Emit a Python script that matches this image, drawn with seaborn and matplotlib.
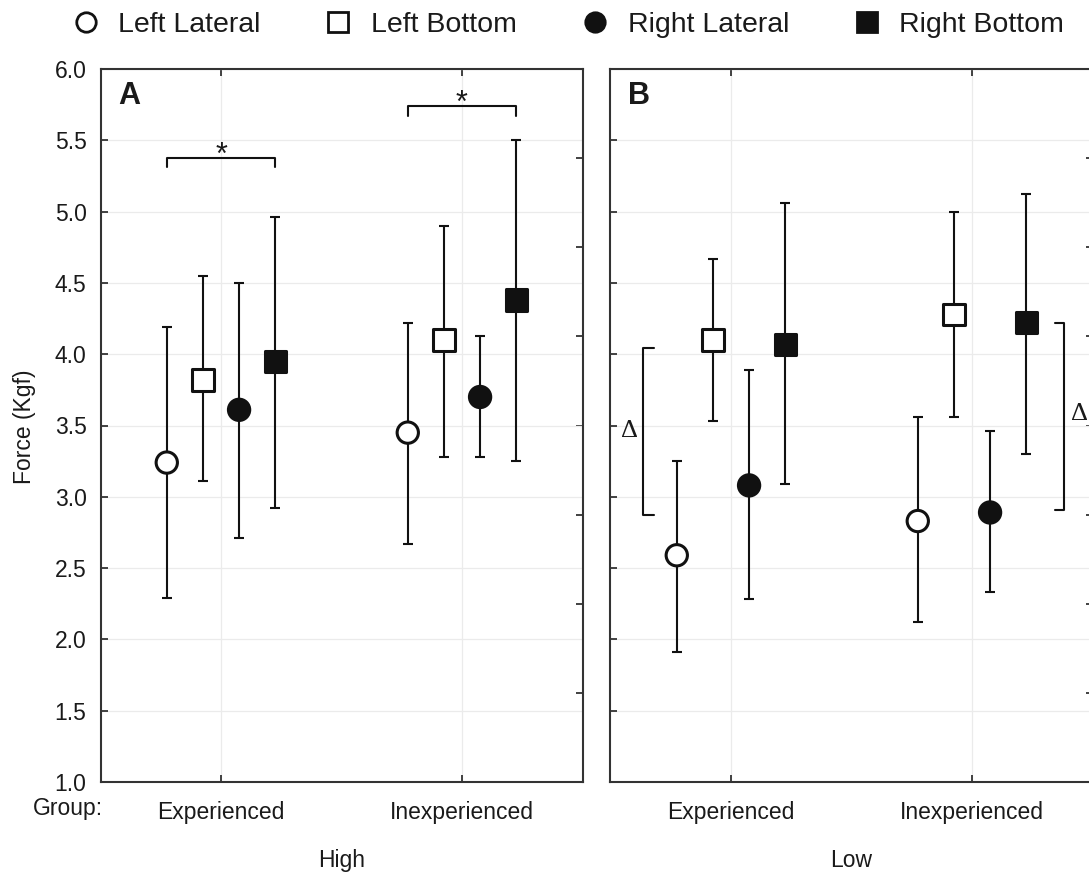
import numpy as np
import pandas as pd
import matplotlib
matplotlib.use("Agg")
import matplotlib.pyplot as plt
from matplotlib.lines import Line2D
import seaborn as sns

# ---------------- data ----------------
groups = ["Experienced", "Inexperienced"]
series = ["Left Lateral", "Left Bottom", "Right Lateral", "Right Bottom"]
panels = ["High", "Low"]

# Panel A (High)
high_mean = {"Left Lateral": [3.24, 3.45], "Left Bottom": [3.82, 4.10],
             "Right Lateral": [3.61, 3.70], "Right Bottom": [3.95, 4.38]}
high_upper = {"Left Lateral": [4.19, 4.22], "Left Bottom": [4.55, 4.90],
              "Right Lateral": [4.50, 4.13], "Right Bottom": [4.96, 5.50]}
high_lower = {"Left Lateral": [2.29, 2.67], "Left Bottom": [3.11, 3.28],
              "Right Lateral": [2.71, 3.28], "Right Bottom": [2.92, 3.25]}

# Panel B (Low)
low_mean = {"Left Lateral": [2.59, 2.83], "Left Bottom": [4.10, 4.28],
            "Right Lateral": [3.08, 2.89], "Right Bottom": [4.07, 4.22]}
low_upper = {"Left Lateral": [3.25, 3.56], "Left Bottom": [4.67, 5.00],
             "Right Lateral": [3.89, 3.46], "Right Bottom": [5.06, 5.12]}
low_lower = {"Left Lateral": [1.91, 2.12], "Left Bottom": [3.53, 3.56],
             "Right Lateral": [2.28, 2.33], "Right Bottom": [3.09, 3.30]}

y_ticks = [1.0, 1.5, 2.0, 2.5, 3.0, 3.5, 4.0, 4.5, 5.0, 5.5, 6.0]
right_ticks = [1.625, 2.25, 2.875, 3.5, 4.125, 4.75, 5.375]

# significance brackets (panel A): (group index, bar top, leg bottom)
sig_brackets = [(0, 5.375, 5.31), (1, 5.74, 5.67)]
# delta brackets (panel B): (x line, x cap end, top, bottom, text x, text y)
delta_brackets = [(-0.365, -0.32, 4.04, 2.87, -0.42, 3.46),
                  (1.382, 1.344, 4.22, 2.91, 1.448, 3.58)]

# ---------------- style ----------------
sns.set_style("white")
plt.rcParams["font.family"] = ["Liberation Sans", "DejaVu Sans"]
TXT = "#1a1a1a"
EDGE = "#111111"
SPINE = "#333333"

face = {"Left Lateral": "white", "Left Bottom": "white",
        "Right Lateral": EDGE, "Right Bottom": EDGE}
marks = {"Left Lateral": "o", "Left Bottom": "s",
         "Right Lateral": "o", "Right Bottom": "s"}
offsets = dict(zip(series, np.linspace(-0.225, 0.225, len(series))))

W, H = 1089, 876
fig = plt.figure(figsize=(W / 100, H / 100), dpi=100)
ax_w = 482 / W
ax_h = 713 / H
ax_b = 1 - 782 / H
axA = fig.add_axes([100.5 / W, ax_b, ax_w, ax_h])
axB = fig.add_axes([610.5 / W, ax_b, ax_w, ax_h])


def build_df(mean, upper, lower):
    rows = []
    for s in series:
        for gi, g in enumerate(groups):
            rows.append(dict(series=s, group=g, x=gi + offsets[s],
                             mean=mean[s][gi], upper=upper[s][gi],
                             lower=lower[s][gi]))
    return pd.DataFrame(rows)


def draw_panel(ax, df, letter, show_labels):
    for s in series:
        d = df[df.series == s]
        ax.errorbar(d.x, d["mean"], yerr=[d["mean"] - d.lower, d.upper - d["mean"]],
                    fmt="none", ecolor=EDGE, elinewidth=1.5, capsize=3.8,
                    capthick=1.5, zorder=2)
    sns.scatterplot(data=df, x="x", y="mean", hue="series", style="series",
                    palette=face, markers=marks, s=235, edgecolor=EDGE,
                    linewidth=2.2, legend=False, ax=ax, zorder=3)
    ax.set_xlim(-0.5, 1.5)
    ax.set_ylim(1.0, 6.0)
    ax.set_xticks(range(len(groups)))
    ax.set_xticklabels(groups)
    ax.set_yticks(y_ticks)
    ax.set_yticklabels([f"{v:.1f}" for v in y_ticks] if show_labels else [])
    ax.set_xlabel("")
    ax.set_ylabel("")
    ax.grid(True, color="#ebebeb", linewidth=0.9)
    ax.set_axisbelow(True)
    for sp in ax.spines.values():
        sp.set_visible(True)
        sp.set_color(SPINE)
        sp.set_linewidth(1.5)
    ax.tick_params(axis="both", direction="in", length=5, width=1.3,
                   color=SPINE, labelsize=16.5, labelcolor=TXT,
                   top=True, bottom=True, left=True, right=False)
    ax.tick_params(axis="x", pad=14)
    ax.tick_params(axis="y", pad=10)
    sec = ax.secondary_yaxis("right")
    sec.set_yticks(right_ticks)
    sec.set_yticklabels([])
    sec.tick_params(direction="in", length=5, width=1.3, color=SPINE)
    sec.spines["right"].set_visible(False)
    ax.text(0.036, 0.962, letter, transform=ax.transAxes, fontsize=22,
            fontweight="bold", ha="left", va="center", color=TXT)


dfA = build_df(high_mean, high_upper, high_lower)
dfB = build_df(low_mean, low_upper, low_lower)
draw_panel(axA, dfA, "A", True)
draw_panel(axB, dfB, "B", False)

# significance brackets in A
for gi, top, leg in sig_brackets:
    x1 = gi + offsets["Left Lateral"]
    x2 = gi + offsets["Right Bottom"]
    axA.plot([x1, x1, x2, x2], [leg, top, top, leg], color=EDGE, lw=1.5,
             zorder=2)
    axA.text(gi, top - 0.04, "*", ha="center", va="baseline", fontsize=22,
             color=TXT)

# delta brackets in B
for xl, xc, top, bot, tx, ty in delta_brackets:
    axB.plot([xc, xl, xl, xc], [top, top, bot, bot], color=EDGE, lw=1.5,
             zorder=2)
    axB.text(tx, ty, "Δ", ha="center", va="center", fontsize=19,
             family="Liberation Serif", color=TXT)

# panel labels / axis text
fig.text(25 / W, 1 - 427 / H, "Force (Kgf)", rotation=90, ha="center",
         va="center", fontsize=16.5, color=TXT)
fig.text(33 / W, 1 - 808 / H, "Group:", ha="left", va="center",
         fontsize=16.5, color=TXT)
for ax, name in zip([axA, axB], panels):
    ax.text(0.5, -0.11, name, transform=ax.transAxes, ha="center",
            va="center", fontsize=16.5, color=TXT)

# legend
handles = [Line2D([], [], linestyle="none", marker=marks[s], markersize=14,
                  markerfacecolor=face[s], markeredgecolor=EDGE,
                  markeredgewidth=2.0) for s in series]
fig.legend(handles, series, loc="center left", ncol=4, frameon=False,
           bbox_to_anchor=(72 / W, 1 - 25 / H), borderaxespad=0, borderpad=0,
           fontsize=20.5, handlelength=0.95, handletextpad=0.68,
           columnspacing=2.25, labelcolor=TXT)

fig.savefig("out.png", dpi=100)
